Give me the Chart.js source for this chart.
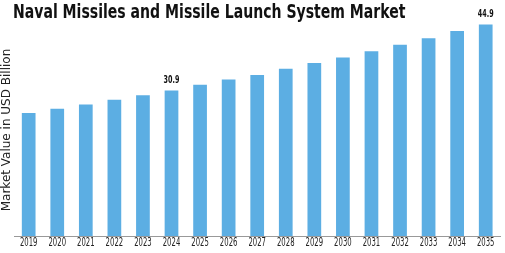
<!DOCTYPE html>
<html>
<head>
<meta charset="utf-8">
<script src="https://cdn.jsdelivr.net/npm/chart.js@4/dist/chart.umd.min.js"></script>
<style>
  html, body { margin: 0; padding: 0; background: #fff; }
  #wrap { position: relative; width: 505px; height: 253px; }
  #title {
    position: absolute; left: 13px; top: 0px;
    font-family: 'DejaVu Sans', sans-serif;
    font-weight: bold; font-size: 19px; color: #111;
    white-space: nowrap;
    transform: scaleX(0.74);
    transform-origin: left top;
  }
  canvas { position: absolute; left: 0; top: 0; }
</style>
</head>
<body>
<div id="wrap">
  <canvas id="chart" width="505" height="253"></canvas>
  <div id="title">Naval Missiles and Missile Launch System Market</div>
</div>
<script>
  // Data
  var years = ['2019', '2020', '2021', '2022', '2023', '2024', '2025', '2026', '2027',
               '2028', '2029', '2030', '2031', '2032', '2033', '2034', '2035'];
  var values = [26.1, 27.0, 27.9, 28.9, 29.9, 30.9, 32.1, 33.2, 34.2,
                35.5, 36.7, 37.9, 39.2, 40.6, 42.0, 43.5, 44.9];
  var labelled = ['2024', '2035'];

  var font = "'DejaVu Sans', sans-serif";

  // text squeezed horizontally, like the narrow lettering of the reference
  function narrowText(ctx, text, x, y, sx) {
    ctx.save();
    ctx.translate(x, y);
    ctx.scale(sx, 1);
    ctx.fillText(text, 0, 0);
    ctx.restore();
  }

  // Year labels under the axis and value labels above selected bars
  var textLayer = {
    id: 'textLayer',
    afterDatasetsDraw: function (chart) {
      var ctx = chart.ctx;
      var xs = chart.scales.x;
      var meta = chart.getDatasetMeta(0);
      ctx.save();
      ctx.textAlign = 'center';

      ctx.font = '11.5px ' + font;
      ctx.fillStyle = '#222';
      ctx.textBaseline = 'middle';
      years.forEach(function (y, i) {
        narrowText(ctx, y, xs.getPixelForTick(i), xs.bottom + 7, 0.6);
      });

      ctx.font = 'bold 10px ' + font;
      ctx.fillStyle = '#111';
      ctx.textBaseline = 'bottom';
      meta.data.forEach(function (bar, i) {
        if (labelled.indexOf(years[i]) === -1) return;
        narrowText(ctx, values[i].toFixed(1), bar.x, bar.y - 5, 0.64);
      });
      ctx.restore();
    }
  };

  new Chart(document.getElementById('chart'), {
    type: 'bar',
    data: {
      labels: years,
      datasets: [{
        data: values,
        backgroundColor: '#5caee3',
        borderWidth: 0,
        barPercentage: 0.48,
        categoryPercentage: 1
      }]
    },
    options: {
      responsive: false,
      animation: false,
      layout: { padding: { left: 0, right: 5, top: 24, bottom: 17 } },
      plugins: {
        legend: { display: false },
        tooltip: { enabled: false }
      },
      scales: {
        x: {
          grid: { display: false, drawTicks: false },
          border: { display: true, color: '#999', width: 1 },
          ticks: { display: false }
        },
        y: {
          min: 0,
          max: 45,
          grid: { display: false, drawTicks: false },
          border: { display: false },
          ticks: { display: false },
          title: {
            display: true,
            text: 'Market Value in USD Billion',
            color: '#222',
            padding: { top: 0, bottom: 0 },
            font: { family: font, size: 12 }
          }
        }
      }
    },
    plugins: [textLayer]
  });
</script>
</body>
</html>
